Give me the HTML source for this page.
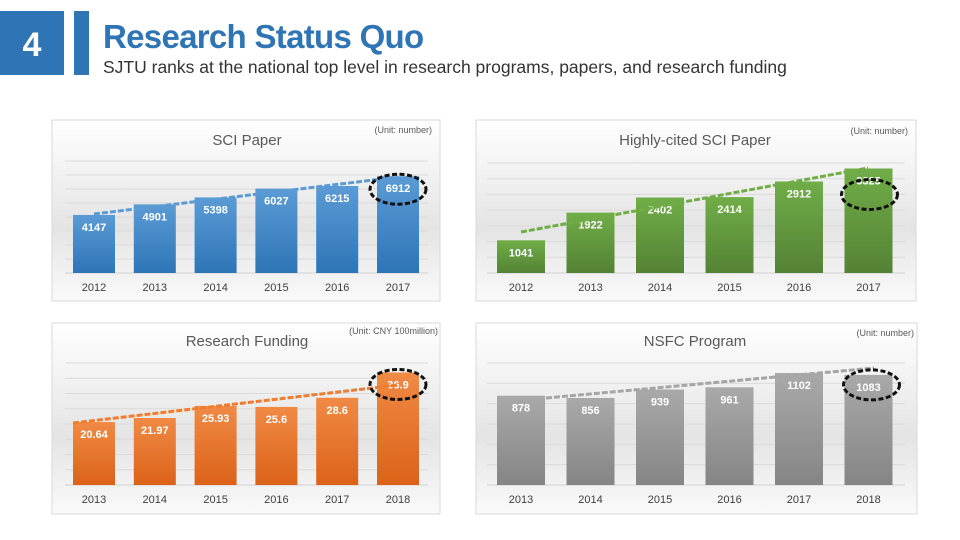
<!DOCTYPE html>
<html><head><meta charset="utf-8"><style>
body{margin:0;width:960px;height:540px;background:#fff;overflow:hidden;font-family:"Liberation Sans",sans-serif}
svg{position:absolute;left:0;top:0}
</style></head><body>
<svg id="s" width="960" height="540" xmlns="http://www.w3.org/2000/svg">
<defs>
<linearGradient id="bg" x1="0" y1="0" x2="0" y2="1"><stop offset="0" stop-color="#fff"/><stop offset="0.6" stop-color="#e4e4e4"/><stop offset="1" stop-color="#fafafa"/></linearGradient>
<linearGradient id="gb" x1="0" y1="0" x2="0" y2="1"><stop offset="0" stop-color="#5b9bd5"/><stop offset="1" stop-color="#2e75b6"/></linearGradient>
<linearGradient id="gg" x1="0" y1="0" x2="0" y2="1"><stop offset="0" stop-color="#70ad47"/><stop offset="1" stop-color="#548235"/></linearGradient>
<linearGradient id="go" x1="0" y1="0" x2="0" y2="1"><stop offset="0" stop-color="#f08a45"/><stop offset="1" stop-color="#dc6219"/></linearGradient>
<linearGradient id="ga" x1="0" y1="0" x2="0" y2="1"><stop offset="0" stop-color="#a9a9a9"/><stop offset="1" stop-color="#858585"/></linearGradient>
</defs>
<rect x="0" y="11" width="64" height="64" fill="#2f75b5"/>
<text x="32" y="56" text-anchor="middle" font-size="34" font-weight="bold" fill="#fff">4</text>
<rect x="74" y="11" width="15" height="64" fill="#2f75b5"/>
<text x="103" y="48" font-size="33" font-weight="bold" fill="#2f75b5" letter-spacing="-0.7">Research Status Quo</text>
<text x="103" y="73" font-size="17.5" fill="#333">SJTU ranks at the national top level in research programs, papers, and research funding</text>
<g id="charts"></g>
</svg>
<script>
const sciYears=["2012","2013","2014","2015","2016","2017"];
const sciValues=[4147,4901,5398,6027,6215,6912];
const hcYears=["2012","2013","2014","2015","2016","2017"];
const hcValues=[1041,1922,2402,2414,2912,3325];
const fundYears=["2013","2014","2015","2016","2017","2018"];
const fundValues=[20.64,21.97,25.93,25.6,28.6,36.9];
const fundLabels=["20.64","21.97","25.93","25.6","28.6","36.9"];
const nsfcYears=["2013","2014","2015","2016","2017","2018"];
const nsfcValues=[878,856,939,961,1102,1083];

const NS="http://www.w3.org/2000/svg";
const root=document.getElementById('charts');
function mk(tag,attrs,parent){const e=document.createElementNS(NS,tag);for(const k in attrs)e.setAttribute(k,attrs[k]);(parent||root).appendChild(e);return e;}

function chart(cfg,cats,vals,labels){
  const g=mk('g',{});
  
  
  const bgR=mk('rect',{x:cfg.x,y:cfg.y,width:cfg.w,height:cfg.h,fill:'url(#bg)',stroke:'#d9d9d9'},g);
  
  
  const yS=v=>cfg.base-(v/cfg.max)*(cfg.base-cfg.top);
  const xS=i=>cfg.x0+i*cfg.step;
  for(let k=0;k<=cfg.ticks;k++){
    const yy=yS(cfg.max*k/cfg.ticks);
    const ln=mk('line',{x1:cfg.gx1,x2:cfg.gx2,y1:yy,y2:yy,stroke:k==0?'#d0d0d0':'#dadada','stroke-width':1},g);
    
    
  }
  const t=mk('text',{x:cfg.tx,y:cfg.ty,'text-anchor':'middle','font-size':15,fill:'#595959'},g);
  t.textContent=cfg.title;
  
  
  const u=mk('text',{x:cfg.ux,y:cfg.uy,'text-anchor':'end','font-size':9,fill:'#595959'},g);
  u.textContent=cfg.unit;
  
  
  cats.forEach((c,i)=>{
    const cx=xS(i),yt=yS(vals[i]);
    const b=mk('rect',{x:cx-cfg.bw/2,y:yt,width:cfg.bw,height:cfg.base-yt,fill:cfg.fill},g);
    
    
    const vl=mk('text',{x:cx,y:yt+16,'text-anchor':'middle','font-size':11,'font-weight':'bold',fill:'#fff'},g);
    vl.textContent=labels?labels[i]:String(vals[i]);
    
    
    const xl=mk('text',{x:cx,y:cfg.base+18,'text-anchor':'middle','font-size':11,fill:'#404040'},g);
    xl.textContent=c;
    
    
  });
  const tl=mk('line',{x1:cfg.t1[0],y1:cfg.t1[1],x2:cfg.t2[0],y2:cfg.t2[1],stroke:cfg.tc,'stroke-width':3,'stroke-dasharray':'6 2'},g);
  
  
  const n=cats.length-1;
  const el=mk('ellipse',{cx:xS(n)+cfg.cdx,cy:yS(vals[n])+cfg.cdy,rx:28,ry:15,fill:'none',stroke:'#111','stroke-width':3,'stroke-dasharray':'5 2.5'},g);
  
  
}

chart({name:'sci-paper-chart',x:52,y:120,w:388,h:181,top:161,base:273,max:8000,ticks:8,gx1:65,gx2:428,x0:94,step:60.8,bw:42,fill:'url(#gb)',title:'SCI Paper',tx:247,ty:145,unit:'(Unit: number)',ux:432,uy:133,t1:[94,214],t2:[398,177],tc:'#5b9bd5',cdx:0,cdy:13},sciYears,sciValues);
chart({name:'highly-cited-chart',x:476,y:120,w:440,h:181,top:163,base:273,max:3500,ticks:7,gx1:487,gx2:905,x0:521,step:69.5,bw:48,fill:'url(#gg)',title:'Highly-cited SCI Paper',tx:695,ty:145,unit:'(Unit: number)',ux:908,uy:134,t1:[521,232],t2:[868,168],tc:'#70ad47',cdx:1,cdy:26},hcYears,hcValues);
chart({name:'research-funding-chart',x:52,y:323,w:388,h:191,top:363,base:485,max:40,ticks:8,gx1:65,gx2:428,x0:94,step:60.8,bw:42,fill:'url(#go)',title:'Research Funding',tx:247,ty:346,unit:'(Unit: CNY 100million)',ux:438,uy:334,t1:[73,423],t2:[398,385],tc:'#ed7d31',cdx:0,cdy:12},fundYears,fundValues,fundLabels);
chart({name:'nsfc-program-chart',x:476,y:323,w:441,h:191,top:363,base:485,max:1200,ticks:6,gx1:487,gx2:905,x0:521,step:69.5,bw:48,fill:'url(#ga)',title:'NSFC Program',tx:695,ty:346,unit:'(Unit: number)',ux:914,uy:336,t1:[546,398],t2:[874,368],tc:'#a5a5a5',cdx:3,cdy:10},nsfcYears,nsfcValues);
</script>
</body></html>
